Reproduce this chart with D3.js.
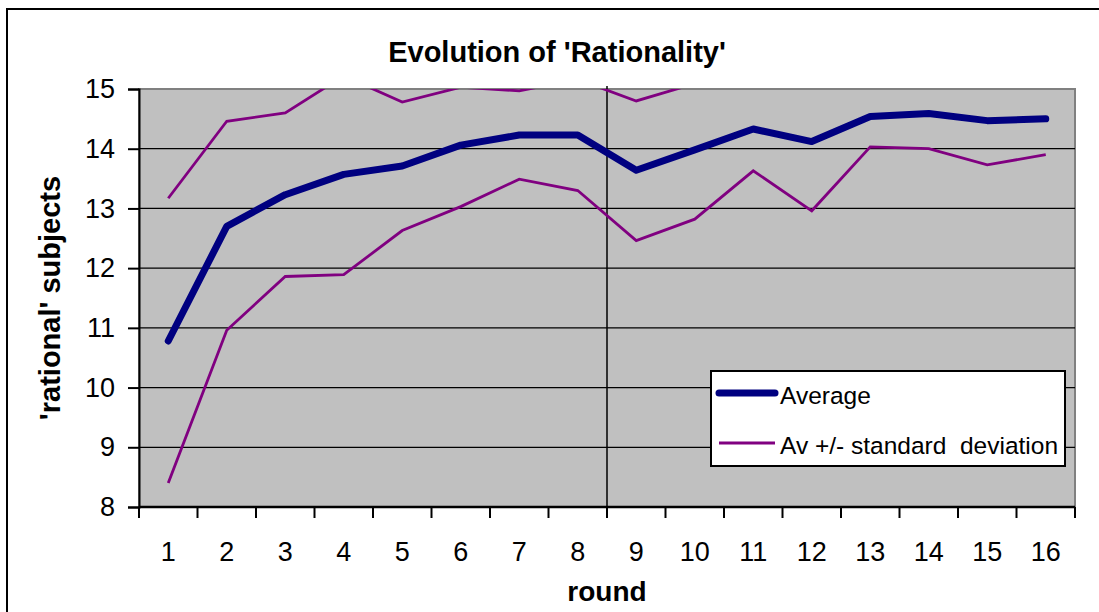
<!DOCTYPE html>
<html>
<head>
<meta charset="utf-8">
<script src="https://cdn.jsdelivr.net/npm/d3@7"></script>
<style>
  body { margin: 0; background: #fff; }
  text { font-family: "Liberation Sans", Arial, sans-serif; fill: #000; }
</style>
</head>
<body>
<div id="chart"></div>
<script>
// values
const rounds = ["1", "2", "3", "4", "5", "6", "7", "8", "9", "10", "11", "12", "13", "14", "15", "16"];
const average = [10.78, 12.70, 13.23, 13.57, 13.71, 14.06, 14.23, 14.23, 13.64, 13.98, 14.33, 14.12, 14.54, 14.59, 14.47, 14.50];
const lower = [8.40, 10.96, 11.86, 11.89, 12.63, 13.03, 13.49, 13.30, 12.46, 12.82, 13.63, 12.96, 14.03, 14.00, 13.73, 13.90];
const upper = [13.17, 14.46, 14.60, 15.22, 14.78, 15.03, 14.97, 15.16, 14.80, 15.09, 15.03, 15.28, 15.05, 15.18, 15.21, 15.10];
const yTicks = [8, 9, 10, 11, 12, 13, 14, 15];

const width = 1099;
const height = 612;
const marginLeft = 139;
const marginRight = 24;
const marginTop = 89;
const marginBottom = 105;

const x = d3.scaleBand(rounds, [marginLeft, width - marginRight]);
const y = d3.scaleLinear([8, 15], [height - marginBottom, marginTop]);

const svg = d3.select("#chart").append("svg")
  .attr("width", width)
  .attr("height", height);

// outer chart frame
svg.append("rect")
  .attr("x", 7).attr("y", 9)
  .attr("width", width + 10).attr("height", height + 10)
  .attr("fill", "#fff")
  .attr("stroke", "#000")
  .attr("stroke-width", 2);

// plot area
svg.append("rect")
  .attr("x", marginLeft).attr("y", marginTop)
  .attr("width", width - marginRight - marginLeft)
  .attr("height", height - marginBottom - marginTop)
  .attr("fill", "#c0c0c0")
  .attr("stroke", "#808080")
  .attr("stroke-width", 2);

svg.append("clipPath").attr("id", "clip")
  .append("rect")
  .attr("x", marginLeft).attr("y", marginTop)
  .attr("width", width - marginRight - marginLeft)
  .attr("height", height - marginBottom - marginTop);

// gridlines
svg.append("g")
  .selectAll("line")
  .data(yTicks.filter(d => d > 8 && d < 15))
  .join("line")
  .attr("x1", marginLeft).attr("x2", width - marginRight)
  .attr("y1", d => y(d)).attr("y2", d => y(d))
  .attr("stroke", "#000")
  .attr("stroke-width", 1.2);

// y axis
svg.append("g")
  .attr("transform", `translate(${marginLeft},0)`)
  .call(d3.axisLeft(y).tickValues(yTicks).tickFormat(d3.format("d")).tickSize(11).tickPadding(13))
  .call(g => g.select(".domain").attr("stroke-width", 2))
  .call(g => g.selectAll(".tick line").attr("stroke-width", 2))
  .call(g => g.selectAll(".tick text")
    .attr("font-size", 27)
    .attr("font-family", "Liberation Sans, Arial, sans-serif"));

// x axis, ticks between categories
const bounds = rounds.map(r => x(r)).concat([width - marginRight]);
svg.append("g")
  .selectAll("line")
  .data(bounds)
  .join("line")
  .attr("x1", d => d).attr("x2", d => d)
  .attr("y1", y(8)).attr("y2", y(8) + 11)
  .attr("stroke", "#000")
  .attr("stroke-width", 2);

svg.append("line")
  .attr("x1", marginLeft).attr("x2", width - marginRight)
  .attr("y1", y(8)).attr("y2", y(8))
  .attr("stroke", "#000")
  .attr("stroke-width", 2.5);

svg.append("g")
  .attr("font-size", 27)
  .attr("text-anchor", "middle")
  .selectAll("text")
  .data(rounds)
  .join("text")
  .attr("x", d => x(d) + x.bandwidth() / 2)
  .attr("y", 561)
  .text(d => d);

// separator between rounds 8 and 9
svg.append("line")
  .attr("x1", x("9")).attr("x2", x("9"))
  .attr("y1", marginTop - 3).attr("y2", y(8))
  .attr("stroke", "#000")
  .attr("stroke-width", 1.5);

// series
const line = d3.line()
  .x((d, i) => x(rounds[i]) + x.bandwidth() / 2)
  .y(d => y(d));

const series = svg.append("g").attr("clip-path", "url(#clip)").attr("fill", "none");

series.selectAll("path.sd")
  .data([upper, lower])
  .join("path")
  .attr("class", "sd")
  .attr("stroke", "#800080")
  .attr("stroke-width", 2.8)
  .attr("d", line);

series.append("path")
  .attr("stroke", "#000080")
  .attr("stroke-width", 7)
  .attr("stroke-linecap", "round")
  .attr("stroke-linejoin", "round")
  .attr("d", line(average));

// titles
svg.append("text")
  .attr("x", 557).attr("y", 62)
  .attr("text-anchor", "middle")
  .attr("font-size", 29)
  .attr("font-weight", "bold")
  .text("Evolution of 'Rationality'");

svg.append("text")
  .attr("x", (marginLeft + width - marginRight) / 2).attr("y", 601)
  .attr("text-anchor", "middle")
  .attr("font-size", 28)
  .attr("font-weight", "bold")
  .text("round");

svg.append("text")
  .attr("transform", `translate(60,${(marginTop + height - marginBottom) / 2}) rotate(-90)`)
  .attr("text-anchor", "middle")
  .attr("font-size", 29)
  .attr("font-weight", "bold")
  .text("'rational' subjects");

// legend
const legend = svg.append("g").attr("transform", "translate(711,371)");
legend.append("rect")
  .attr("width", 354).attr("height", 95)
  .attr("fill", "#fff")
  .attr("stroke", "#000")
  .attr("stroke-width", 2);

const items = [
  { label: "Average", color: "#000080", w: 7, cap: "round" },
  { label: "Av +/- standard\u00a0 deviation", color: "#800080", w: 2.8, cap: "butt" }
];
items.forEach((d, i) => {
  const row = legend.append("g").attr("transform", `translate(0,${22 + i * 50})`);
  row.append("line")
    .attr("x1", 8).attr("x2", 64)
    .attr("stroke", d.color)
    .attr("stroke-width", d.w)
    .attr("stroke-linecap", d.cap);
  row.append("text")
    .attr("x", 69).attr("y", 11)
    .attr("font-size", 24.5)
    .text(d.label);
});
</script>
</body>
</html>
